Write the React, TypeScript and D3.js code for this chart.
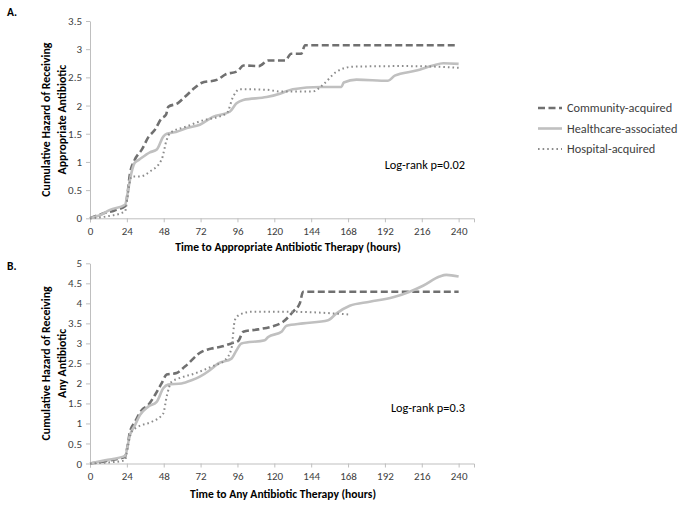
import * as d3 from "d3";
import { useEffect, useRef } from "react";

// hours to appropriate antibiotic therapy (panel A) - [hour, cumulative hazard]
const aCommunity: [number, number][] = [
  [0, 0], [8, 0.08], [16, 0.14], [23, 0.22], [24.5, 0.45], [26, 0.79], [29, 1.03], [34, 1.23],
  [38, 1.44], [42, 1.56], [46.5, 1.77], [49.5, 1.84], [51, 1.98], [57, 2.04], [62, 2.16],
  [68, 2.31], [72.5, 2.4], [83, 2.46], [88, 2.55], [96, 2.61], [100, 2.71], [110, 2.7],
  [116, 2.8], [127, 2.8], [131, 2.92], [137.5, 2.92], [140, 3.07], [238, 3.07],
];
const aHealthcare: [number, number][] = [
  [0, 0], [6, 0.05], [13, 0.15], [22.8, 0.24], [24.5, 0.45], [26, 0.68], [29, 0.98], [32, 1.04],
  [39, 1.17], [43.5, 1.22], [47.7, 1.45], [50, 1.5], [56, 1.53], [63, 1.6], [71.5, 1.66],
  [80, 1.8], [91, 1.89], [95.4, 2.04], [99.8, 2.1], [115, 2.15], [123.6, 2.21], [132, 2.29],
  [150, 2.33], [163.7, 2.33], [165.2, 2.41], [173.5, 2.46], [194, 2.44], [198.4, 2.53],
  [212.5, 2.62], [223.3, 2.71], [230, 2.75], [240, 2.74],
];
const aHospital: [number, number][] = [
  [0, 0], [10, 0.03], [22.8, 0.12], [24.5, 0.4], [27, 0.74], [32.5, 0.74], [39, 0.83],
  [46.6, 1.04], [49.9, 1.39], [52, 1.51], [63, 1.63], [71.5, 1.72], [89, 1.86], [93.2, 2.16],
  [97.6, 2.29], [115, 2.28], [123.6, 2.25], [145, 2.25], [151.7, 2.37], [160.5, 2.6],
  [171.3, 2.69], [204, 2.7], [225.5, 2.69], [240, 2.67],
];

// hours to any antibiotic therapy (panel B)
const bCommunity: [number, number][] = [
  [0, 0], [10, 0.06], [22.8, 0.17], [24.5, 0.45], [26, 0.79], [29.3, 1.04], [33.6, 1.33],
  [37.9, 1.46], [42.3, 1.71], [46.6, 2.0], [49.9, 2.22], [56.4, 2.26], [61.8, 2.42],
  [72.6, 2.79], [79.1, 2.87], [85.6, 2.92], [92.1, 3.0], [96.5, 3.06], [99.8, 3.29],
  [109.5, 3.35], [118.2, 3.42], [125.7, 3.54], [132.2, 3.79], [136.6, 4.0], [138.7, 4.29],
  [240, 4.29],
];
const bHealthcare: [number, number][] = [
  [0, 0], [9.8, 0.08], [22.8, 0.19], [26, 0.71], [29.3, 0.96], [32.5, 1.21], [37.9, 1.42],
  [43.4, 1.54], [47.7, 1.88], [50.9, 1.97], [59.6, 2.0], [66.1, 2.08], [71.5, 2.17], [78, 2.33],
  [83.5, 2.5], [92.1, 2.62], [95.4, 2.83], [98.6, 3.0], [113.8, 3.08], [116, 3.16],
  [124.7, 3.29], [127.9, 3.44], [138.7, 3.5], [155, 3.58], [160.5, 3.75], [169.1, 3.94],
  [182.1, 4.04], [197.3, 4.15], [208.1, 4.29], [216.8, 4.44], [227.6, 4.67], [232, 4.71],
  [240, 4.67],
];
const bHospital: [number, number][] = [
  [0, 0], [10, 0.02], [22.8, 0.08], [24.5, 0.4], [27, 0.79], [31.4, 0.92], [40.1, 1.04],
  [47.7, 1.25], [49.9, 1.67], [53.1, 2.04], [57.4, 2.12], [68.3, 2.25], [79.1, 2.42],
  [87.8, 2.58], [92.1, 2.87], [94.3, 3.58], [97.6, 3.72], [105.2, 3.79], [130, 3.79],
  [169.1, 3.72],
];

const xTicks = [0, 24, 48, 72, 96, 120, 144, 168, 192, 216, 240];
const aYTicks = [0, 0.5, 1, 1.5, 2, 2.5, 3, 3.5];
const bYTicks = [0, 0.5, 1, 1.5, 2, 2.5, 3, 3.5, 4, 4.5, 5];

const seriesNames = ["Community-acquired", "Healthcare-associated", "Hospital-acquired"];

const FONT = "Carlito, Calibri, Lato, sans-serif";
const AXIS = "#bfbfbf";
const TXT = "#404040";
const styles = [
  { stroke: "#707070", width: 2.6, dash: "7,3.5" },
  { stroke: "#c0c0c0", width: 2.6, dash: "none" },
  { stroke: "#8c8c8c", width: 2, dash: "1.6,3" },
];

function AxisBottom({ scale, y }) {
  const ref = useRef(null);
  useEffect(() => {
    const g = d3.select(ref.current);
    g.call(d3.axisBottom(scale).tickValues(xTicks).tickSize(4).tickPadding(5));
    g.selectAll("path,line").attr("stroke", AXIS);
    g.selectAll("text").attr("fill", TXT).style("font-family", FONT).style("font-size", "11px");
  }, [scale]);
  return <g ref={ref} transform={`translate(0,${y})`} />;
}

function AxisLeft({ scale, x, ticks }) {
  const ref = useRef(null);
  useEffect(() => {
    const g = d3.select(ref.current);
    g.call(d3.axisLeft(scale).tickValues(ticks).tickFormat(d => String(d))
      .tickSize(4).tickPadding(4).tickSizeOuter(0));
    g.selectAll("path,line").attr("stroke", AXIS);
    g.selectAll("text").attr("fill", TXT).style("font-family", FONT).style("font-size", "11px");
  }, [scale]);
  return <g ref={ref} transform={`translate(${x},0)`} />;
}

function Panel({ series, yMax, yTicks, top, bottom, letter, letterY, yTitle, xTitle, xTitleX, xTitleY, logRank, logRankY }) {
  const x = d3.scaleLinear().domain([0, 250]).range([90, 474]);
  const y = d3.scaleLinear().domain([0, yMax]).range([bottom, top]);
  const line = d3.line<[number, number]>()
    .x(d => x(d[0]))
    .y(d => y(d[1]))
    .curve(d3.curveMonotoneX);
  const mid = (top + bottom) / 2;

  return (
    <g>
      <text x={7} y={letterY} fontFamily={FONT} fontWeight="bold" fontSize={11.5} fill="#000">{letter}</text>
      <AxisLeft scale={y} x={90} ticks={yTicks} />
      <AxisBottom scale={x} y={bottom} />
      {series.map((s, i) => (
        <path key={seriesNames[i]} d={line(s)} fill="none" stroke={styles[i].stroke}
          strokeWidth={styles[i].width} strokeDasharray={styles[i].dash} />
      ))}
      <text transform={`translate(50,${mid}) rotate(-90)`} textAnchor="middle"
        fontFamily={FONT} fontWeight="bold" fontSize={11.8} fill="#000">
        <tspan x={0} dy={0}>{yTitle[0]}</tspan>
        <tspan x={0} dy={16}>{yTitle[1]}</tspan>
      </text>
      <text x={xTitleX} y={xTitleY} textAnchor="middle" fontFamily={FONT} fontWeight="bold"
        fontSize={11.6} fill="#000">{xTitle}</text>
      <text x={465} y={logRankY} textAnchor="end" fontFamily={FONT} fontSize={12.3} fill="#000">{logRank}</text>
    </g>
  );
}

export default function App() {
  return (
    <svg width={683} height={507} style={{ position: "absolute", left: 0, top: 0, background: "#fff" }}>
      <Panel series={[aCommunity, aHealthcare, aHospital]} yMax={3.5} yTicks={aYTicks}
        top={21} bottom={218.3} letter="A." letterY={16}
        yTitle={["Cumulative Hazard of Receiving", "Appropriate Antibiotic"]}
        xTitle="Time to Appropriate Antibiotic Therapy (hours)" xTitleX={288} xTitleY={251}
        logRank="Log-rank p=0.02" logRankY={169} />
      <Panel series={[bCommunity, bHealthcare, bHospital]} yMax={5} yTicks={bYTicks}
        top={263.3} bottom={463.5} letter="B." letterY={270}
        yTitle={["Cumulative Hazard of Receiving", "Any Antibiotic"]}
        xTitle="Time to Any Antibiotic Therapy (hours)" xTitleX={283} xTitleY={498}
        logRank="Log-rank p=0.3" logRankY={412} />
      <g fontFamily={FONT} fontSize={12.3} fill={TXT}>
        {seriesNames.map((n, i) => (
          <g key={n} transform={`translate(538,${108 + i * 20.5})`}>
            <line x1={0} x2={24} y1={0} y2={0} stroke={styles[i].stroke}
              strokeWidth={styles[i].width} strokeDasharray={styles[i].dash} />
            <text x={29} y={4.2}>{n}</text>
          </g>
        ))}
      </g>
    </svg>
  );
}
